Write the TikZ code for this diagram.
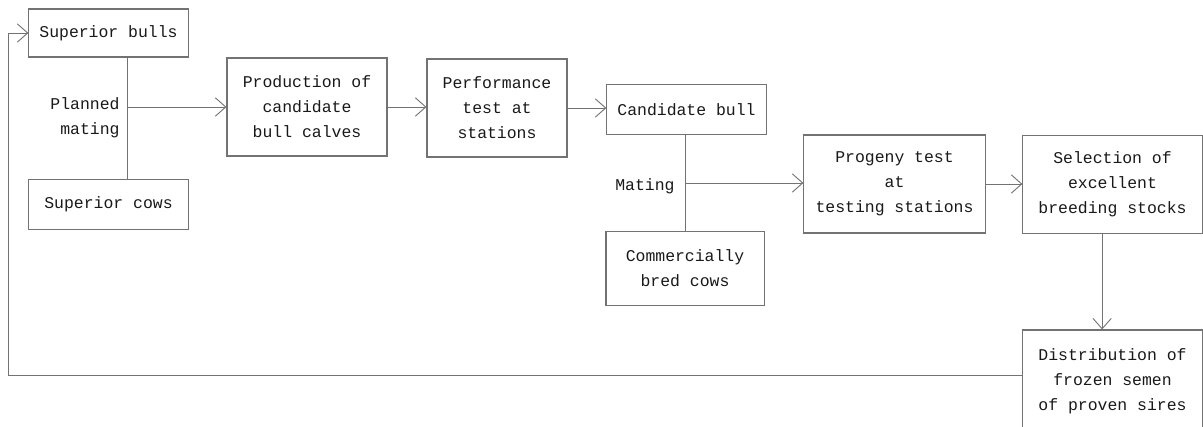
\documentclass[tikz,border=0pt]{standalone}
\usepackage{fontspec}
\setmonofont{Liberation Mono}
\usetikzlibrary{arrows.meta}
\begin{document}
\begin{tikzpicture}[x=0.025cm,y=-0.025cm,color=black!55,line width=0.65pt,
  >={Straight Barb[length=2.6mm,width=4.6mm]},
  box/.style={draw,line width=0.75pt,inner sep=0pt,align=center,
    font=\ttfamily\fontsize{11.7}{17.8}\selectfont,text=black!90},
  lab/.style={inner sep=0pt,align=right,
    font=\ttfamily\fontsize{11.7}{17.8}\selectfont,text=black!90}]
\clip (0,0) rectangle (1203,427);
\node[box,minimum width=3.98cm,minimum height=1.2cm] (bulls) at (108.5,33) {Superior bulls};
\node[box,minimum width=3.98cm,minimum height=1.23cm] (cows) at (108.5,204.5) {Superior cows};
\node[box,minimum width=4cm,minimum height=2.45cm] (prod) at (307,107) {Production of\\candidate\\bull calves};
\node[box,minimum width=3.5cm,minimum height=2.45cm] (perf) at (497,108) {Performance\\test at\\stations};
\node[box,minimum width=3.98cm,minimum height=1.23cm] (cand) at (686.5,109.5) {Candidate bull};
\node[box,minimum width=3.95cm,minimum height=1.83cm] (comm) at (685,268.5) {Commercially\\bred cows};
\node[box,minimum width=4.53cm,minimum height=2.45cm] (prog) at (894.5,184) {Progeny test\\at\\testing stations};
\node[box,minimum width=4.48cm,minimum height=2.43cm] (sel) at (1112.5,184.5) {Selection of\\excellent\\breeding stocks};
\node[box,minimum width=4.48cm,minimum height=2.55cm] (dist) at (1112.5,381) {Distribution of\\frozen semen\\of proven sires};
\node[lab,anchor=east] (pmlab) at (120,118) {Planned\\mating};
\node[lab,anchor=east] (mlab) at (675,186) {Mating};
\coordinate (pm) at (127,107);
\coordinate (m) at (685,183);
\coordinate (fb) at (8,375);
\draw (bulls.south -| pm) -- (cows.north -| pm);
\draw[->] (pm) -- (pm -| prod.west);
\draw[->] (prod.east) -- (prod.east -| perf.west);
\draw[->] (perf.east) -- (perf.east -| cand.west);
\draw (cand.south -| m) -- (comm.north -| m);
\draw[->] (m) -- (m -| prog.west);
\draw[->] (prog.east) -- (prog.east -| sel.west);
\draw[->] ([xshift=-0.26cm]sel.south) -- ([xshift=-0.26cm]dist.north);
\draw[->] (dist.west |- fb) -- (fb) |- (bulls.west);
\end{tikzpicture}
\end{document}
